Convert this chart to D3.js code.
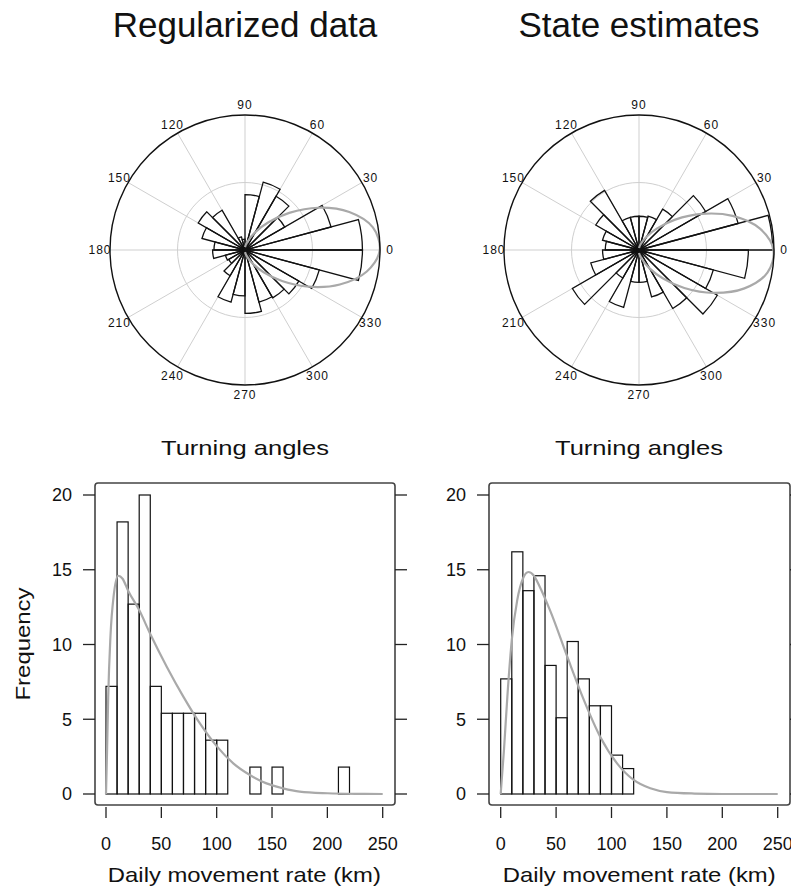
<!DOCTYPE html>
<html>
<head>
  <title>Regularized data vs state estimates</title>
  <script src="https://d3js.org/d3.v7.min.js"></script>
  <style>
    body { margin: 0; background: #fff; }
    svg text { font-family: "Liberation Sans", Arial, Helvetica, sans-serif; fill: #111; }
    .grid { stroke: #cfcfcf; stroke-width: 1; fill: none; }
    .sector { fill: none; stroke: #111; stroke-width: 1.3; }
    .dens { fill: none; stroke: #a9a9a9; stroke-width: 2.2; }
    .bar { fill: none; stroke: #111; stroke-width: 1.2; }
    .frame { fill: none; stroke: #444; stroke-width: 1.6; }
    .tick { stroke: #222; stroke-width: 1.3; }
  </style>
</head>
<body>
  <svg id="chart" width="791" height="890"></svg>

  <script>
    // ---- data ----
    const panelTitles = ["Regularized data", "State estimates"];
    const angleLabels = [0, 30, 60, 90, 120, 150, 180, 210, 240, 270, 300, 330];

    // rose bins of 15 degrees starting at 0, radius as share of the outer circle
    const binWidthDeg = 15;
    const regRose = [0.87, 0.66, 0.34, 0.46, 0.52, 0.41, 0.08, 0.10, 0.34, 0.40, 0.33, 0.23,
                     0.24, 0.15, 0.14, 0.22, 0.40, 0.34, 0.47, 0.40, 0.41, 0.46, 0.57, 0.87];
    const stateRose = [0.99, 0.76, 0.57, 0.35, 0.26, 0.25, 0.25, 0.25, 0.51, 0.37, 0.28, 0.25,
                       0.27, 0.37, 0.57, 0.24, 0.44, 0.24, 0.24, 0.36, 0.50, 0.67, 0.57, 0.81];

    // fitted circular density (grey loop): angle in degrees, radius share
    const loopAngles = [-90, -75, -60, -50, -40, -30, -20, -10, 0, 10, 20, 30, 40, 50, 60, 75, 90];
    const regLoop   = [0.016, 0.045, 0.120, 0.215, 0.358, 0.544, 0.747, 0.916, 0.998,
                       0.962, 0.822, 0.626, 0.428, 0.266, 0.153, 0.059, 0.021];
    const stateLoop = [0.022, 0.061, 0.157, 0.273, 0.438, 0.636, 0.831, 0.966, 0.996,
                       0.910, 0.738, 0.535, 0.350, 0.209, 0.116, 0.044, 0.015];

    // histograms: bins of 10 km starting at 0
    const histBinWidth = 10;
    const regHist = [7.2, 18.2, 12.7, 20, 7.2, 5.4, 5.4, 5.4, 5.4, 3.6, 3.6,
                     0, 0, 1.8, 0, 1.8, 0, 0, 0, 0, 0, 1.8];
    const stateHist = [7.7, 16.2, 13.6, 14.6, 8.6, 5.1, 10.2, 7.7, 5.9, 5.9, 2.6, 1.7];

    // fitted rate density (grey curve)
    const regCurveX = [0, 1, 2, 4, 7, 11, 15, 20, 30, 40, 55, 70, 85, 100, 115, 130, 145, 160, 175, 200, 225, 250];
    const regCurveY = [0, 3, 6.5, 10.5, 13.3, 14.6, 14.4, 13.6, 12.3, 10.7, 8.5, 6.5, 4.7, 3.2, 2.05, 1.27, 0.71, 0.38, 0.16, 0.05, 0.01, 0];
    const stateCurveX = [0, 3, 6, 10, 15, 20, 25, 30, 35, 45, 60, 75, 90, 105, 120, 135, 150, 175, 200, 250];
    const stateCurveY = [0, 3, 6.5, 10.3, 13, 14.4, 14.85, 14.6, 13.9, 12.2, 9.2, 6.3, 3.8, 2.05, 0.94, 0.38, 0.13, 0.03, 0, 0];

    const xTicks = [0, 50, 100, 150, 200, 250];
    const yTicks = [0, 5, 10, 15, 20];

    // ---- layout ----
    const svg = d3.select("#chart");
    const R = 135;
    const roseCenters = [[245, 250], [639, 250]];
    const panels = [
      { rose: regRose, loop: regLoop, hist: regHist, cx: regCurveX, cy: regCurveY,
        box: [95, 395], x0: 106, x1: 382.7, ylab: true },
      { rose: stateRose, loop: stateLoop, hist: stateHist, cx: stateCurveX, cy: stateCurveY,
        box: [489, 790], x0: 500.7, x1: 777.7, ylab: false }
    ];

    const rad = d3.scaleLinear().domain([0, 1]).range([0, R]);
    const toRad = deg => (90 - deg) * Math.PI / 180;   // math angle -> d3 radial angle

    const y = d3.scaleLinear().domain([0, 20]).range([794, 495]);
    const boxTop = 483, boxBottom = 805;

    panels.forEach(function(p, k) {
      const [ox, oy] = roseCenters[k];

      // title
      svg.append("text")
        .attr("x", ox).attr("y", 37)
        .attr("text-anchor", "middle")
        .style("font-size", "35px")
        .text(panelTitles[k]);

      // ---- rose diagram ----
      const g = svg.append("g").attr("transform", `translate(${ox},${oy})`);

      g.selectAll(".spoke").data(angleLabels).enter().append("line")
        .attr("class", "grid")
        .attr("x1", 0).attr("y1", 0)
        .attr("x2", d => rad(1) * Math.cos(d * Math.PI / 180))
        .attr("y2", d => -rad(1) * Math.sin(d * Math.PI / 180));

      g.append("circle").attr("class", "grid").attr("r", rad(0.5));

      const arc = d3.arc().innerRadius(0);
      g.selectAll(".sector").data(p.rose).enter().append("path")
        .attr("class", "sector")
        .attr("d", (d, i) => arc({
          outerRadius: rad(d),
          startAngle: toRad((i + 1) * binWidthDeg),
          endAngle: toRad(i * binWidthDeg)
        }));

      g.append("circle").attr("r", 2.5).attr("fill", "#111");

      const loopLine = d3.lineRadial()
        .angle(d => toRad(d[0]))
        .radius(d => rad(d[1]))
        .curve(d3.curveCatmullRom);
      g.append("path")
        .attr("class", "dens")
        .attr("d", loopLine(loopAngles.map((a, i) => [a, p.loop[i]])));

      g.append("circle").attr("r", rad(1))
        .attr("fill", "none").attr("stroke", "#111").attr("stroke-width", 1.4);

      g.selectAll(".alab").data(angleLabels).enter().append("text")
        .attr("x", d => (R + 10) * Math.cos(d * Math.PI / 180))
        .attr("y", d => -(R + 10) * Math.sin(d * Math.PI / 180))
        .attr("text-anchor", "middle")
        .attr("dy", "0.35em")
        .style("font-size", "12px")
        .style("letter-spacing", "1px")
        .text(d => d);

      svg.append("text")
        .attr("x", ox).attr("y", 455)
        .attr("text-anchor", "middle")
        .attr("textLength", 168).attr("lengthAdjust", "spacingAndGlyphs")
        .style("font-size", "21px")
        .text("Turning angles");

      // ---- histogram ----
      const x = d3.scaleLinear().domain([0, 250]).range([p.x0, p.x1]);
      const h = svg.append("g");

      h.selectAll(".bar").data(p.hist).enter().append("rect")
        .attr("class", "bar")
        .attr("x", (d, i) => x(i * histBinWidth))
        .attr("width", (d, i) => x((i + 1) * histBinWidth) - x(i * histBinWidth))
        .attr("y", d => y(d))
        .attr("height", d => y(0) - y(d));

      const curve = d3.line()
        .x(d => x(d[0])).y(d => y(d[1]))
        .curve(d3.curveMonotoneX);
      h.append("path")
        .attr("class", "dens")
        .attr("stroke-width", 2.6)
        .attr("d", curve(p.cx.map((v, i) => [v, p.cy[i]])));

      h.append("rect")
        .attr("class", "frame")
        .attr("x", p.box[0]).attr("y", boxTop)
        .attr("width", p.box[1] - p.box[0]).attr("height", boxBottom - boxTop)
        .attr("rx", 3);

      // y ticks both sides, labels left
      h.selectAll(".ytl").data(yTicks).enter().append("line")
        .attr("class", "tick")
        .attr("x1", p.box[0] - 12).attr("x2", p.box[0])
        .attr("y1", d => y(d)).attr("y2", d => y(d));
      h.selectAll(".ytr").data(yTicks).enter().append("line")
        .attr("class", "tick")
        .attr("x1", p.box[1]).attr("x2", p.box[1] + 12)
        .attr("y1", d => y(d)).attr("y2", d => y(d));
      h.selectAll(".ylab").data(yTicks).enter().append("text")
        .attr("x", p.box[0] - 23).attr("y", d => y(d))
        .attr("dy", "0.36em")
        .attr("text-anchor", "end")
        .style("font-size", "18px")
        .text(d => d);

      // x ticks
      h.selectAll(".xt").data(xTicks).enter().append("line")
        .attr("class", "tick")
        .attr("x1", d => x(d)).attr("x2", d => x(d))
        .attr("y1", boxBottom + 2).attr("y2", boxBottom + 13);
      h.selectAll(".xlab").data(xTicks).enter().append("text")
        .attr("x", d => x(d)).attr("y", 850)
        .attr("text-anchor", "middle")
        .style("font-size", "18px")
        .text(d => d);

      svg.append("text")
        .attr("x", (p.x0 + p.x1) / 2).attr("y", 882)
        .attr("text-anchor", "middle")
        .attr("textLength", 273).attr("lengthAdjust", "spacingAndGlyphs")
        .style("font-size", "21px")
        .text("Daily movement rate (km)");

      if (p.ylab) {
        svg.append("text")
          .attr("transform", `translate(30,${(boxTop + boxBottom) / 2}) rotate(-90)`)
          .attr("text-anchor", "middle")
          .attr("textLength", 113).attr("lengthAdjust", "spacingAndGlyphs")
          .style("font-size", "21px")
          .text("Frequency");
      }
    });
  </script>
</body>
</html>
